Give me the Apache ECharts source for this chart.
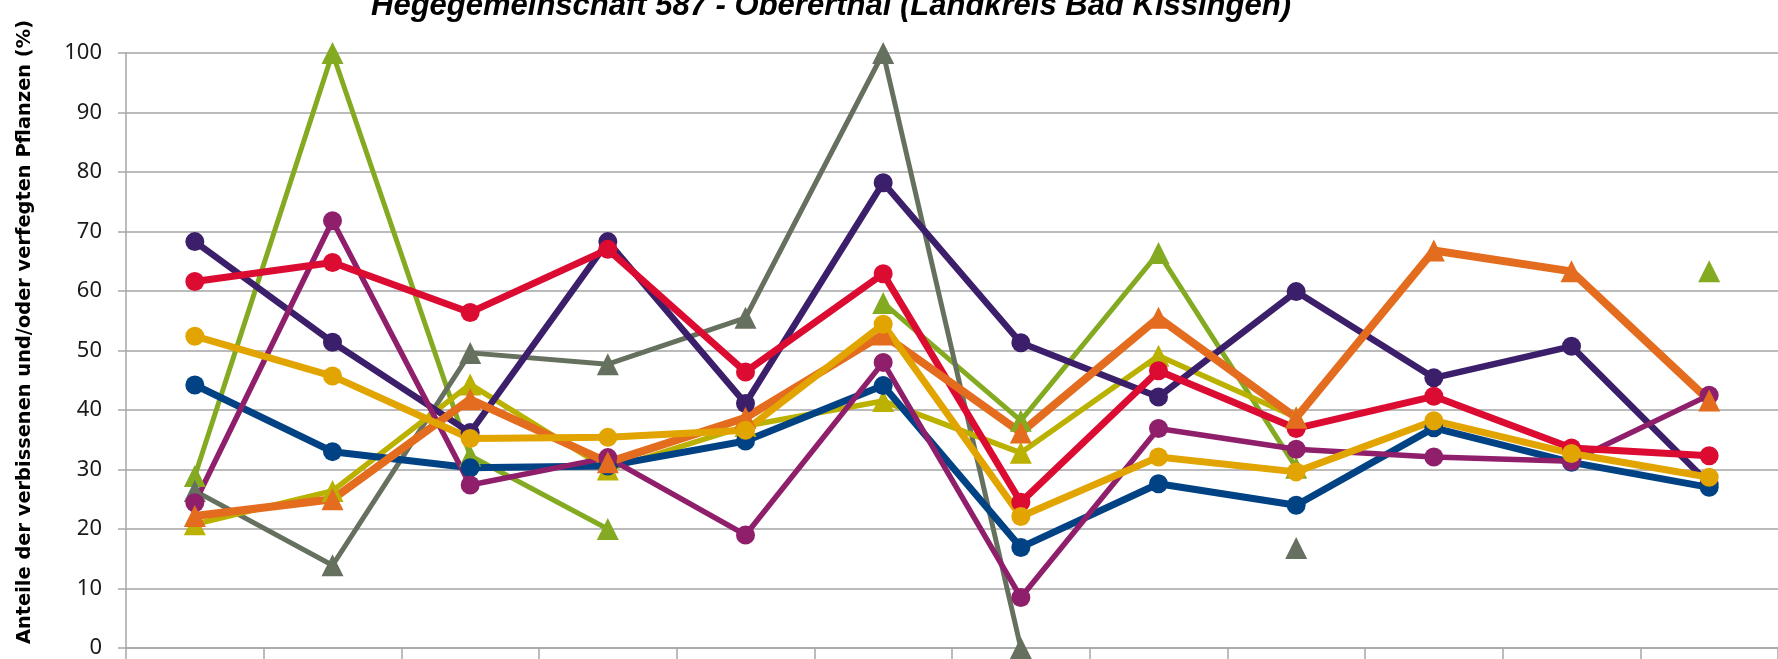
<!DOCTYPE html>
<html>
<head>
<meta charset="utf-8">
<script src="https://cdn.jsdelivr.net/npm/echarts@6/dist/echarts.min.js"></script>
<style>
html,body{margin:0;padding:0;background:#fff;}
#chart{width:1778px;height:659px;}
</style>
</head>
<body>
<div id="chart"></div>
<script>
const titleText = 'Hegegemeinschaft 587 - Obererthal (Landkreis Bad Kissingen)';
const yAxisTitle = 'Anteile der verbissenen und/oder verfegten Pflanzen (%)';
const categories = ['1991','1994','1997','2000','2003','2006','2009','2012','2015','2018','2021','2024'];

const purpleValues  = [68.3, 51.4, 36.2, 68.3, 41.1, 78.2, 51.3, 42.2, 59.9, 45.4, 50.7, 27.6];
const redValues     = [61.6, 64.8, 56.4, 67.0, 46.4, 62.9, 24.5, 46.6, 36.9, 42.3, 33.6, 32.3];
const blueValues    = [44.2, 33.0, 30.3, 30.6, 34.8, 44.1, 16.9, 27.6, 24.0, 37.0, 31.2, 27.0];
const magentaValues = [24.4, 71.8, 27.4, 32.0, 19.0, 48.0, 8.5, 36.9, 33.4, 32.1, 31.4, 42.5];
const goldValues    = [52.4, 45.7, 35.2, 35.4, 36.6, 54.4, 22.1, 32.1, 29.6, 38.2, 32.7, 28.7];
const greenValues   = [28.9, 100, 32.3, 20.0, null, 58.0, 38.2, 66.4, 30.3, null, null, 63.3];
const grayValues    = [26.4, 13.9, 49.6, 47.7, 55.5, 100, 0, null, 16.8, null, null, null];
const oliveValues   = [20.8, 26.4, 44.3, 30.0, 37.3, 41.5, 32.8, 49.1, 38.8, null, null, null];
const orangeValues  = [22.2, 25.0, 41.8, 31.2, 38.7, 52.7, 36.2, 55.5, 38.7, 66.8, 63.3, 41.6];
const yTicks = [0, 10, 20, 30, 40, 50, 60, 70, 80, 90, 100];

function lineSeries(name, data, color, symbol, width, size) {
  return {
    name: name, type: 'line', data: data,
    symbol: symbol, symbolSize: size, showSymbol: true, showAllSymbol: true,
    connectNulls: false, clip: false,
    lineStyle: {color: color, width: width, join: 'round', cap: 'round'},
    itemStyle: {color: color, borderWidth: 0},
    emphasis: {disabled: true},
    animation: false
  };
}

const chart = echarts.init(document.getElementById('chart'), null, {renderer: 'canvas'});
chart.setOption({
  animation: false,
  backgroundColor: '#ffffff',
  graphic: [
    {type: 'text', x: 831, y: 22, style: {text: titleText, fill: '#000', font: 'italic bold 31px "Liberation Sans", Arial, sans-serif', textAlign: 'center', textVerticalAlign: 'bottom'}},
    {type: 'text', x: 25, y: 332, rotation: Math.PI / 2, style: {text: yAxisTitle, fill: '#000', font: 'bold 19.4px "DejaVu Sans", sans-serif', textAlign: 'center', textVerticalAlign: 'middle'}}
  ],
  grid: {left: 126, top: 53, width: 1663, height: 596, containLabel: false},
  xAxis: {
    type: 'category', data: categories, boundaryGap: true,
    axisLine: {show: true, lineStyle: {color: '#a6a6a6', width: 1.5}},
    axisTick: {show: true, alignWithLabel: false, length: 11, lineStyle: {color: '#a6a6a6', width: 1.5}},
    axisLabel: {show: false},
    splitLine: {show: false}
  },
  yAxis: {
    type: 'value', min: yTicks[0], max: yTicks[yTicks.length - 1], interval: 10,
    axisLine: {show: true, lineStyle: {color: '#a6a6a6', width: 1.5}},
    axisTick: {show: true, length: 8, lineStyle: {color: '#a6a6a6', width: 1.5}},
    axisLabel: {show: true, margin: 24, color: '#1a1a1a', fontFamily: '"Noto Sans", sans-serif', fontSize: 22},
    splitLine: {show: true, lineStyle: {color: '#a4a4a4', width: 1.6}}
  },
  series: [
    lineSeries('Reihe G', greenValues, '#83aa21', 'triangle', 5, 22),
    lineSeries('Reihe H', grayValues, '#65705e', 'triangle', 5, 22),
    lineSeries('Reihe I', oliveValues, '#bbb100', 'triangle', 5.5, 22),
    lineSeries('Reihe A', purpleValues, '#3c1f6a', 'circle', 6.5, 19),
    lineSeries('Reihe C', blueValues, '#004283', 'circle', 7, 19),
    lineSeries('Reihe D', magentaValues, '#8f1f6b', 'circle', 5.5, 19),
    lineSeries('Reihe B', redValues, '#db0b32', 'circle', 7, 19),
    lineSeries('Reihe J', orangeValues, '#e46c1f', 'triangle', 8, 22),
    lineSeries('Reihe E', goldValues, '#e2a400', 'circle', 7, 19)
  ]
});
</script>
</body>
</html>
